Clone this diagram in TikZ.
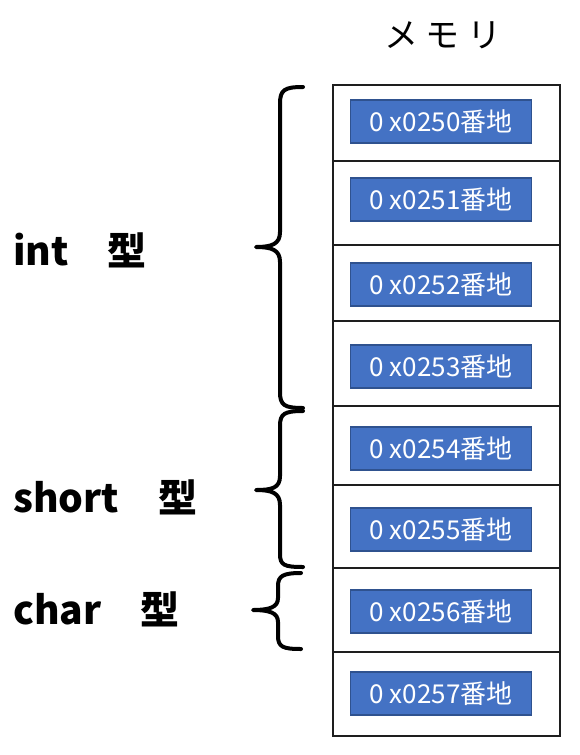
\documentclass[tikz,border=0pt]{standalone}
\usepackage{fontspec}
\usepackage{xcolor}
\usetikzlibrary{positioning}
\setmainfont{Noto Sans CJK JP}
\definecolor{ink}{RGB}{0,0,0}
\definecolor{cellline}{RGB}{30,30,30}
\definecolor{addrfill}{RGB}{68,114,196}
\definecolor{addrline}{RGB}{47,82,143}
\tikzset{
  cell/.style     ={rectangle, draw=cellline, line width=1.2pt, minimum width=227pt, inner sep=0pt},
  addr/.style     ={rectangle, draw=addrline, fill=addrfill, line width=1.5pt,
                    minimum width=181pt, minimum height=43pt, inner sep=0pt,
                    text=white, font=\fontsize{26}{28}\selectfont},
  typelabel/.style={anchor=west, font=\fontsize{39}{42}\selectfont\bfseries, inner sep=0pt},
  brace/.style    ={draw=ink, line width=4pt, line cap=round, line join=round},
}
\begin{document}
\begin{tikzpicture}[x=1pt, y=-1pt]
\useasboundingbox (0,0) rectangle (580,755);
\node[font=\fontsize{34}{36}\selectfont] (title) at (443,35) {メ モ リ};
% memory cells
\foreach \i/\t/\b/\ay/\n in {0/85/161/121.5/0250, 1/161/245/199.5/0251,
                             2/245/321/284.5/0252, 3/321/406/366.5/0253,
                             4/406/485/448.5/0254, 5/485/568/529.5/0255,
                             6/568/652/611.5/0256, 7/652/736/693.5/0257} {
  \pgfmathsetmacro{\h}{\b-\t}
  \pgfmathsetmacro{\c}{(\b+\t)/2}
  \node[cell, minimum height=\h pt] (cell\i) at (446.5,\c) {};
  \node[addr] (addr\i) at (441,\ay) {0 x\n 番地};
}
% type labels
\node[typelabel] (int)   at (13,250) {int　型};
\node[typelabel] (short) at (13,497) {short　型};
\node[typelabel] (char)  at (13,609) {char　型};
% braces
\draw[brace] (303,87) .. controls (284,87) and (280,90) .. (280,104) -- (280,232)
  .. controls (280,244) and (272,247) .. (256,247)
  .. controls (272,247) and (280,250) .. (280,262) -- (280,392)
  .. controls (280,405) and (284,408) .. (303,408);
\draw[brace] (303,411) .. controls (284,411) and (280,414) .. (280,426) -- (280,476)
  .. controls (280,488) and (272,490) .. (256,490)
  .. controls (272,490) and (280,493) .. (280,505) -- (280,554)
  .. controls (280,565) and (284,567) .. (303,567);
\draw[brace] (301,573) .. controls (283,573) and (278,576) .. (278,586) -- (278,598)
  .. controls (278,607) and (270,610) .. (253,610)
  .. controls (270,610) and (278,613) .. (278,622) -- (278,636)
  .. controls (278,647) and (283,649) .. (301,649);
\end{tikzpicture}
\end{document}
